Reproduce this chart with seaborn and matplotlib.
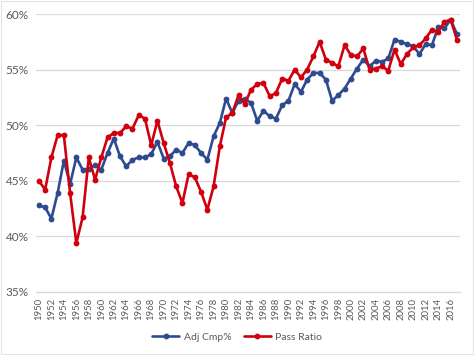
import numpy as np
import pandas as pd
import matplotlib
matplotlib.use("Agg")
import matplotlib.pyplot as plt
import seaborn as sns

# values (percent)
years = list(range(1950, 2018))

adj_cmp = [42.8, 42.6, 41.6, 43.9, 46.8, 44.7, 47.1, 46.0, 46.1, 46.4,
           46.0, 47.5, 48.8, 47.2, 46.3, 46.9, 47.1, 47.1, 47.4, 48.5,
           47.0, 47.2, 47.8, 47.5, 48.4, 48.2, 47.5, 46.9, 49.0, 50.2,
           52.4, 51.1, 52.2, 52.4, 52.0, 50.4, 51.3, 50.8, 50.6, 51.8,
           52.2, 53.7, 53.0, 54.1, 54.7, 54.7, 54.1, 52.2, 52.7, 53.3,
           54.2, 55.1, 55.9, 55.3, 55.8, 55.7, 56.0, 57.7, 57.5, 57.3,
           57.1, 56.4, 57.3, 57.2, 58.8, 58.7, 59.5, 58.2]

pass_ratio = [45.0, 44.2, 47.1, 49.1, 49.1, 43.9, 39.4, 41.7, 47.1, 45.1,
              47.1, 48.9, 49.3, 49.3, 49.9, 49.7, 50.9, 50.6, 48.2, 50.4,
              48.4, 46.6, 44.5, 43.0, 45.6, 45.3, 44.0, 42.4, 44.5, 48.1,
              50.7, 51.1, 52.7, 51.9, 53.2, 53.7, 53.8, 52.6, 52.9, 54.2,
              54.0, 55.0, 54.3, 55.0, 56.2, 57.5, 55.9, 55.6, 55.3, 57.2,
              56.3, 56.2, 56.9, 55.0, 55.1, 55.3, 54.9, 56.8, 55.5, 56.4,
              57.0, 57.2, 57.8, 58.6, 58.4, 59.3, 59.5, 57.7]

series_names = ["Adj Cmp%", "Pass Ratio"]
colors = ["#2F4B8F", "#D0000F"]

df = pd.DataFrame({"Year": years, "Adj Cmp%": adj_cmp, "Pass Ratio": pass_ratio})
long_df = df.melt(id_vars="Year", var_name="series", value_name="pct")

sns.set_style("white")
plt.rcParams["font.family"] = ["Lato", "DejaVu Sans"]

fig = plt.figure(figsize=(4.74, 3.55), dpi=100)
ax = fig.add_axes([0.0755, 0.1775, 0.895, 0.783])

sns.lineplot(data=long_df, x="Year", y="pct", hue="series", hue_order=series_names,
             palette=colors, marker="o", markersize=4.2, markeredgewidth=0,
             linewidth=1.9, ax=ax)

ax.set_xlim(1949.5, 2017.5)
ax.set_ylim(35, 60)
ax.set_yticks([35, 40, 45, 50, 55, 60])
ax.set_yticklabels([f"{v}%" for v in [35, 40, 45, 50, 55, 60]])
ax.set_xticks(list(range(1950, 2017, 2)))
ax.set_xticklabels([str(y) for y in range(1950, 2017, 2)], rotation=90)
ax.tick_params(axis="x", labelsize=6.8, colors="#595959", length=0, pad=4)
ax.tick_params(axis="y", labelsize=8.5, colors="#595959", length=0, pad=5)
ax.grid(axis="y", color="#D9D9D9", linewidth=0.9)
ax.set_axisbelow(True)
for s in ["top", "right", "left"]:
    ax.spines[s].set_visible(False)
ax.spines["bottom"].set_color("#D9D9D9")
ax.spines["bottom"].set_linewidth(0.9)
ax.set_xlabel("")
ax.set_ylabel("")

leg = ax.legend(loc="center", bbox_to_anchor=(0.5, 0.05), bbox_transform=fig.transFigure,
                ncol=2, frameon=False, fontsize=7.5, handlelength=2.6,
                columnspacing=1.2, handletextpad=0.4, title=None)
for t in leg.get_texts():
    t.set_color("#595959")

# faint chart-area border
fig.patches.append(plt.Rectangle((0.002, 0.004), 0.996, 0.992, transform=fig.transFigure,
                                 fill=False, edgecolor="#E4E4E4", linewidth=0.8))

fig.savefig("out.png", dpi=100)
